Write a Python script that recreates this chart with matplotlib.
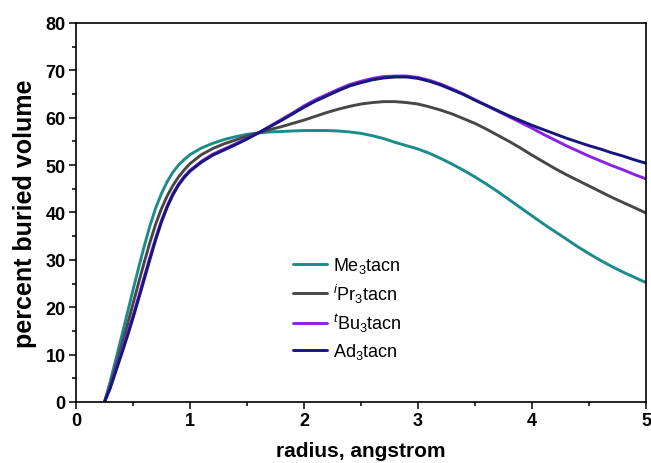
import matplotlib
matplotlib.use("Agg")
import matplotlib.pyplot as plt
from matplotlib.ticker import MultipleLocator

plt.rcParams['font.family'] = ['Liberation Sans', 'DejaVu Sans']
plt.rcParams['mathtext.fontset'] = 'custom'
plt.rcParams['mathtext.rm'] = 'Liberation Sans'
plt.rcParams['mathtext.it'] = 'Liberation Sans:italic'
plt.rcParams['mathtext.default'] = 'regular'

radius = [0.25, 0.3, 0.35, 0.4, 0.45, 0.5, 0.55, 0.6, 0.65, 0.7, 0.75, 0.8, 0.85,
          0.9, 0.95, 1.0, 1.1, 1.2, 1.3, 1.4, 1.5, 1.6, 1.7, 1.8, 1.9, 2.0,
          2.1, 2.2, 2.3, 2.4, 2.5, 2.6, 2.7, 2.8, 2.9, 3.0, 3.1, 3.2, 3.3, 3.4,
          3.5, 3.6, 3.7, 3.8, 3.9, 4.0, 4.1, 4.2, 4.3, 4.4, 4.5, 4.6, 4.7, 4.8,
          4.9, 5.0]

me3 = [0, 4.3, 9.0, 13.8, 18.7, 23.6, 28.4, 33.0, 37.3, 41.0, 44.0, 46.5, 48.5,
       50.0, 51.2, 52.2, 53.6, 54.6, 55.4, 56.0, 56.5, 56.8, 57.0, 57.1, 57.2,
       57.3, 57.3, 57.3, 57.2, 57.0, 56.7, 56.2, 55.6, 54.8, 54.1, 53.4, 52.5,
       51.4, 50.2, 48.9, 47.5, 46.0, 44.4, 42.7, 41.0, 39.3, 37.6, 36.0, 34.4,
       32.8, 31.3, 29.9, 28.6, 27.4, 26.3, 25.2]
ipr3 = [0, 3.4, 7.6, 11.8, 16.2, 20.7, 25.2, 29.6, 33.8, 37.6, 40.8, 43.5, 45.7,
        47.5, 49.0, 50.3, 52.2, 53.5, 54.5, 55.3, 56.1, 56.8, 57.5, 58.1, 58.8,
        59.5, 60.3, 61.1, 61.8, 62.4, 62.9, 63.2, 63.4, 63.4, 63.2, 62.9, 62.3,
        61.6, 60.8, 59.8, 58.8, 57.6, 56.3, 55.0, 53.6, 52.1, 50.7, 49.3, 48.0,
        46.8, 45.6, 44.4, 43.2, 42.1, 41.0, 39.9]
tbu3 = [0, 3.0, 6.8, 10.5, 14.3, 18.2, 22.3, 26.5, 30.7, 34.7, 38.3, 41.4, 44.0,
        46.0, 47.6, 48.9, 50.8, 52.3, 53.4, 54.5, 55.6, 56.8, 58.2, 59.6, 61.0,
        62.5, 63.8, 64.9, 66.0, 67.0, 67.7, 68.3, 68.7, 68.8, 68.8, 68.5, 67.9,
        67.1, 66.1, 65.0, 63.8, 62.6, 61.4, 60.2, 59.0, 57.8, 56.5, 55.3, 54.1,
        53.0, 51.9, 50.9, 49.9, 49.0, 48.0, 47.1]
ad3 = [0, 2.9, 6.5, 10.1, 13.8, 17.7, 21.8, 26.0, 30.2, 34.3, 38.0, 41.1, 43.7,
       45.8, 47.4, 48.7, 50.6, 52.1, 53.2, 54.3, 55.5, 56.8, 58.1, 59.4, 60.8,
       62.2, 63.5, 64.6, 65.7, 66.7, 67.4, 68.0, 68.4, 68.6, 68.6, 68.3, 67.7,
       66.9, 65.9, 64.9, 63.7, 62.6, 61.5, 60.4, 59.4, 58.4, 57.5, 56.6, 55.7,
       54.9, 54.1, 53.4, 52.6, 51.9, 51.1, 50.4]

labels = ["Me$_3$tacn", "$^{\\mathit{i}}$Pr$_3$tacn", "$^{\\mathit{t}}$Bu$_3$tacn", "Ad$_3$tacn"]
colors = ["#1b8b8b", "#474747", "#8a22e6", "#16167e"]
series = [me3, ipr3, tbu3, ad3]

fig = plt.figure(figsize=(6.51, 4.64), dpi=100)
ax = fig.add_axes([0.1167, 0.1315, 0.8756, 0.8168])

for ys, c, lab in zip(series, colors, labels):
    ax.plot(radius, ys, color=c, lw=2.1, label=lab, solid_capstyle='round',
            solid_joinstyle='round')

ax.set_xlim(0, 5)
ax.set_ylim(0, 80)
ax.xaxis.set_major_locator(MultipleLocator(1))
ax.xaxis.set_minor_locator(MultipleLocator(0.5))
ax.yaxis.set_major_locator(MultipleLocator(10))
ax.yaxis.set_minor_locator(MultipleLocator(5))
ax.tick_params(which='major', direction='out', length=5, width=1.1, pad=2.5,
               labelsize=13)
ax.tick_params(which='minor', direction='out', length=3, width=1.1)
for lab in ax.get_xticklabels() + ax.get_yticklabels():
    lab.set_fontweight('bold')
for s in ax.spines.values():
    s.set_linewidth(1.2)

ax.set_xlabel("radius, angstrom", fontsize=15, fontweight='bold', labelpad=8)
ax.set_ylabel("percent buried volume", fontsize=18, fontweight='bold', labelpad=6)

leg = ax.legend(loc='center', bbox_to_anchor=(0.476, 0.248), frameon=False,
                fontsize=13, handlelength=1.9, handletextpad=0.3,
                labelspacing=0.38)

fig.savefig("out.png", dpi=100)
